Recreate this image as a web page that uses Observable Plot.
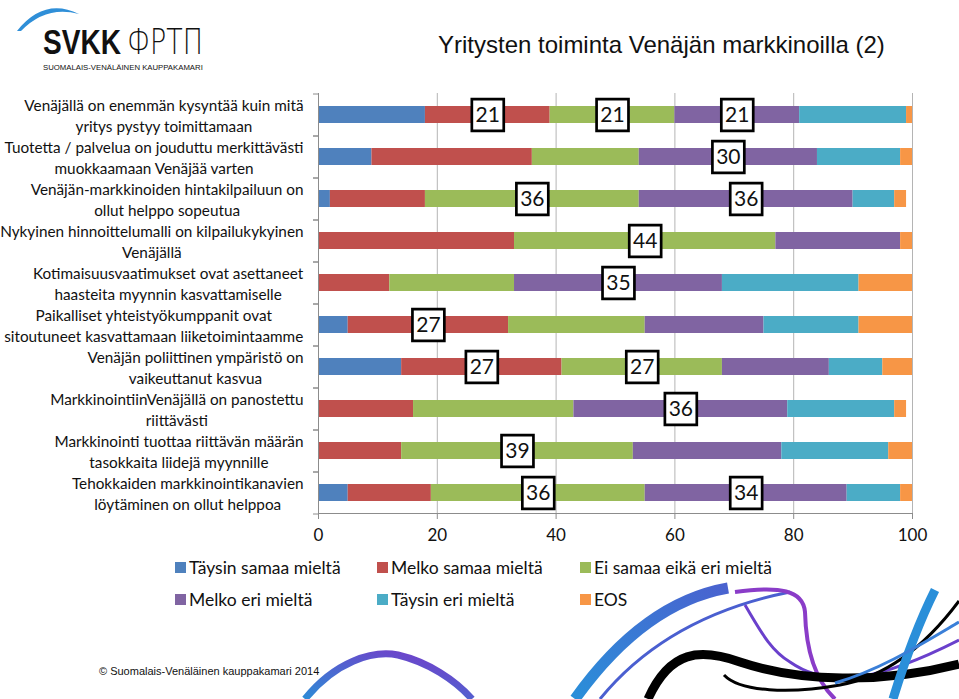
<!DOCTYPE html>
<html>
<head>
<meta charset="utf-8">
<script src="https://cdn.jsdelivr.net/npm/d3@7"></script>
<script src="https://cdn.jsdelivr.net/npm/@observablehq/plot@0.6"></script>
<style>
  html, body { margin: 0; padding: 0; background: #fff; }
  #page { position: relative; width: 959px; height: 699px; overflow: hidden; background: #fff; font-family: Lato, sans-serif; }
  #deco { position: absolute; left: 0; top: 0; z-index: 0; }
  #logo { position: absolute; left: 0; top: 0; z-index: 1; }
  #title { position: absolute; left: 438px; top: 31px; font-family: "Liberation Sans", Arial, sans-serif; font-size: 24px; color: #111; white-space: nowrap; z-index: 1; }
  #chart { position: absolute; left: 0; top: 88px; z-index: 1; }
  .legend-item { position: absolute; display: flex; align-items: center; font-family: Lato, sans-serif; font-size: 17.5px; color: #111; white-space: nowrap; z-index: 1; }
  .legend-item .sw { width: 11px; height: 11px; margin-right: 3px; }
  #footer { position: absolute; left: 99px; top: 665px; font-family: "Liberation Sans", Arial, sans-serif; font-size: 11px; color: #111; z-index: 1; }
</style>
</head>
<body>
<div id="page">
  <svg id="deco" width="959" height="699" viewBox="0 0 959 699">
    <defs>
      <linearGradient id="gBP" x1="0" y1="1" x2="1" y2="0">
        <stop offset="0" stop-color="#2d8bd6"/>
        <stop offset="1" stop-color="#7a35c8"/>
      </linearGradient>
      <linearGradient id="gB" x1="0" y1="1" x2="1" y2="0">
        <stop offset="0" stop-color="#2a8fd9"/>
        <stop offset="1" stop-color="#4a62cf"/>
      </linearGradient>
    </defs>
    <path d="M305,699 C335,662 372,650 398,655 C428,662 455,680 472,699" fill="none" stroke="url(#gBP)" stroke-width="7"/>
    <path d="M575,699 C610,650 660,600 728,588" fill="none" stroke="url(#gB)" stroke-width="11"/>
    <path d="M600,699 C640,650 700,610 790,592" fill="none" stroke="#4a5fd0" stroke-width="3"/>
    <path d="M735,592 C780,586 803,590 805,612 C806,650 815,680 835,699" fill="none" stroke="#8a3cc8" stroke-width="4"/>
    <path d="M745,605 C760,630 770,650 790,662 C830,690 880,680 959,640" fill="none" stroke="#6a40cc" stroke-width="3"/>
    <path d="M648,699 C670,650 700,648 740,662 C800,682 880,684 959,664" fill="none" stroke="#000" stroke-width="9"/>
    <path d="M724,675 C740,692 790,694 840,685 C890,676 930,640 959,601" fill="none" stroke="#000" stroke-width="3"/>
    <path d="M893,699 C905,660 920,620 935,590" fill="none" stroke="#2a8fd9" stroke-width="9"/>
    <path d="M835,683 C880,670 920,645 959,622" fill="none" stroke="#3a7fd8" stroke-width="3"/>
  </svg>

  <svg id="logo" width="260" height="75" viewBox="0 0 260 75">
    <path d="M17,31 Q44,-3 79,14 Q46,5 21,31 Z" fill="#2f8fd8"/>
    <text class="fit" data-x="43" data-y="54" data-w="78" font-family="'Liberation Sans', Arial, sans-serif" font-weight="700" font-size="35" fill="#111">SVKK</text>
    <text class="fit" data-x="127" data-y="54" data-w="76" font-family="'DejaVu Sans', sans-serif" font-weight="200" font-size="35" fill="#111">ФРТП</text>
    <text class="fit" data-x="43" data-y="69.5" data-w="160" font-family="'Liberation Sans', Arial, sans-serif" font-size="7.5" fill="#111">SUOMALAIS-VENÄLÄINEN KAUPPAKAMARI</text>
  </svg>

  <div id="title">Yritysten toiminta Venäjän markkinoilla (2)</div>
  <div id="chart"></div>
  <div id="legend"></div>
  <div id="footer">© Suomalais-Venäläinen kauppakamari 2014</div>
</div>

<script>
// ---- Data ----
const questions = [
  "Venäjällä on enemmän kysyntää kuin mitä\nyritys pystyy toimittamaan",
  "Tuotetta / palvelua on jouduttu merkittävästi\nmuokkaamaan Venäjää varten",
  "Venäjän-markkinoiden hintakilpailuun on\nollut helppo sopeutua",
  "Nykyinen hinnoittelumalli on kilpailukykyinen\nVenäjällä",
  "Kotimaisuusvaatimukset ovat asettaneet\nhaasteita myynnin kasvattamiselle",
  "Paikalliset yhteistyökumppanit ovat\nsitoutuneet kasvattamaan liiketoimintaamme",
  "Venäjän poliittinen ympäristö on\nvaikeuttanut kasvua",
  "MarkkinointiinVenäjällä on panostettu\nriittävästi",
  "Markkinointi tuottaa riittävän määrän\ntasokkaita liidejä myynnille",
  "Tehokkaiden markkinointikanavien\nlöytäminen on ollut helppoa"
];
const series = ["Täysin samaa mieltä", "Melko samaa mieltä", "Ei samaa eikä eri mieltä", "Melko eri mieltä", "Täysin eri mieltä", "EOS"];
const colors = ["#4F81BD", "#C0504D", "#9BBB59", "#8064A2", "#4BACC6", "#F79646"];

const taysinSamaa   = [18,  9,  2,  0,  0,  5, 14,  0,  0,  5];
const melkoSamaa    = [21, 27, 16, 33, 12, 27, 27, 16, 14, 14];
const eiSamaaEikaEri= [21, 18, 36, 44, 21, 23, 27, 27, 39, 36];
const melkoEri      = [21, 30, 36, 21, 35, 20, 18, 36, 25, 34];
const taysinEri     = [18, 14,  7,  0, 23, 16,  9, 18, 18,  9];
const eos           = [ 1,  2,  2,  2,  9,  9,  5,  2,  4,  2];

const xTicks = [0, 20, 40, 60, 80, 100];
// segments that carry a boxed data label: [question index, series index]
const labeled = [[0,1],[0,2],[0,3],[1,3],[2,2],[2,3],[3,2],[4,3],[5,1],[6,1],[6,2],[7,3],[8,2],[9,2],[9,3]];

// ---- Build tables ----
const valuesBySeries = [taysinSamaa, melkoSamaa, eiSamaaEikaEri, melkoEri, taysinEri, eos];
const data = [];
questions.forEach((q, i) => series.forEach((s, j) => data.push({question: q, series: s, value: valuesBySeries[j][i]})));

const labels = labeled.map(([i, j]) => {
  let start = 0;
  for (let k = 0; k < j; k++) start += valuesBySeries[k][i];
  const v = valuesBySeries[j][i];
  return {question: questions[i], value: v, mid: start + v / 2};
});

const axisColor = "#8c8c8c";

const chart = Plot.plot({
  width: 959,
  height: 465,
  marginTop: 5,
  marginBottom: 40,
  marginLeft: 318,
  marginRight: 47,
  style: {fontFamily: "Lato, sans-serif", fontSize: "15px", color: "#111", background: "transparent", overflow: "visible"},
  x: {domain: [0, 100]},
  y: {domain: questions, paddingInner: 0.6, paddingOuter: 0.3},
  color: {domain: series, range: colors},
  marks: [
    Plot.gridX(xTicks.slice(1), {stroke: "#b4b4b4", strokeOpacity: 1}),
    Plot.barX(data, Plot.stackX({x: "value", y: "question", fill: "series", order: series})),
    Plot.ruleX([0], {stroke: axisColor}),
    Plot.frame({anchor: "bottom", stroke: axisColor}),
    Plot.axisX({ticks: xTicks, tickSize: 6, tickPadding: 9, fontSize: 17, stroke: axisColor, fill: "#111", label: null}),
    Plot.axisY({tickSize: 5, dy: 21, tickFormat: () => "", stroke: axisColor, label: null}),
    Plot.axisY({tickSize: 5, dy: -21, tickFormat: () => "", stroke: axisColor, label: null}),
    Plot.axisY({tickSize: 0, tickPadding: 15, fontSize: 15.3, lineHeight: 1.38, fill: "#111", label: null}),
    Plot.dot(labels, {x: "mid", y: "question", symbol: "square", r: 18, fill: "white", stroke: "black", strokeWidth: 2.7}),
    Plot.text(labels, {x: "mid", y: "question", text: "value", fontSize: 21, fill: "#111"})
  ]
});
document.getElementById("chart").appendChild(chart);

// center the lines of each category label inside its right-aligned block
chart.querySelectorAll('g[aria-label="y-axis tick label"] text').forEach(t => {
  const w = t.getBBox().width;
  if (!w) return;
  t.setAttribute("text-anchor", "middle");
  const tr = t.getAttribute("transform") || "";
  t.setAttribute("transform", tr + ` translate(${-w / 2},0)`);
});

// fit logo words to their widths by horizontal scaling
document.querySelectorAll("#logo text.fit").forEach(t => {
  const w = t.getBBox().width;
  const target = +t.dataset.w;
  const sx = w ? target / w : 1;
  t.setAttribute("transform", `translate(${t.dataset.x},${t.dataset.y}) scale(${sx},1)`);
});

// ---- Legend ----
const legend = document.getElementById("legend");
const legendCols = [175, 377, 580];
const legendRows = [567, 599];
series.forEach((s, j) => {
  const item = document.createElement("div");
  item.className = "legend-item";
  item.style.left = legendCols[j % 3] + "px";
  item.style.top = (legendRows[Math.floor(j / 3)] - 12) + "px";
  item.style.height = "24px";
  const sw = document.createElement("span");
  sw.className = "sw";
  sw.style.background = colors[j];
  const tx = document.createElement("span");
  tx.textContent = s;
  item.appendChild(sw);
  item.appendChild(tx);
  legend.appendChild(item);
});
</script>
</body>
</html>
